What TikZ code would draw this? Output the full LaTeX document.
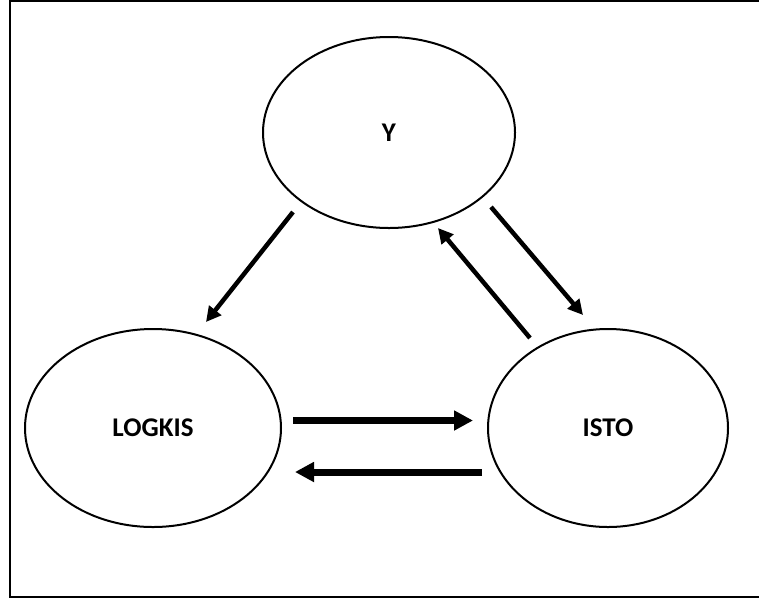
\documentclass[tikz,border=0pt]{standalone}
\usepackage{fontspec}
\setmainfont{Carlito}
\usetikzlibrary{shapes.geometric,arrows.meta,calc}
\begin{document}
\begin{tikzpicture}[x=1pt,y=-1pt,
  bubble/.style={draw,ellipse,line width=2pt,inner sep=0pt,outer sep=0pt,
    font=\fontsize{27}{32}\selectfont\bfseries},
  thinarr/.style={line width=4.5pt,-{Triangle[length=15pt,width=15pt]}},
  thickarr/.style={line width=7pt,-{Triangle[length=19pt,width=19pt]}},
  frame/.style={line width=2pt}]
\useasboundingbox (0,0) rectangle (759,603);
\draw[frame] (759,1) -- (10,1) -- (10,597) -- (759,597);
\node[bubble,minimum width=252pt,minimum height=191pt] (Y) at (389,132.5) {Y};
\node[bubble,minimum width=256pt,minimum height=198pt] (L) at (153,428) {LOGKIS};
\node[bubble,minimum width=240pt,minimum height=198pt] (I) at (608,428) {ISTO};
\draw[thinarr] ($(Y)+(-96,79.5)$) -- ($(L)+(53,-106)$);
\draw[thinarr] ($(Y)+(102,74.5)$) -- ($(I)+(-25,-113)$);
\draw[thinarr] ($(I)+(-78,-90)$) -- ($(Y)+(49,95.5)$);
\draw[thickarr] ($(L)+(140,-7.5)$) -- ($(I)+(-135,-7.5)$);
\draw[thickarr] ($(I)+(-126,44)$) -- ($(L)+(142,44)$);
\end{tikzpicture}
\end{document}
